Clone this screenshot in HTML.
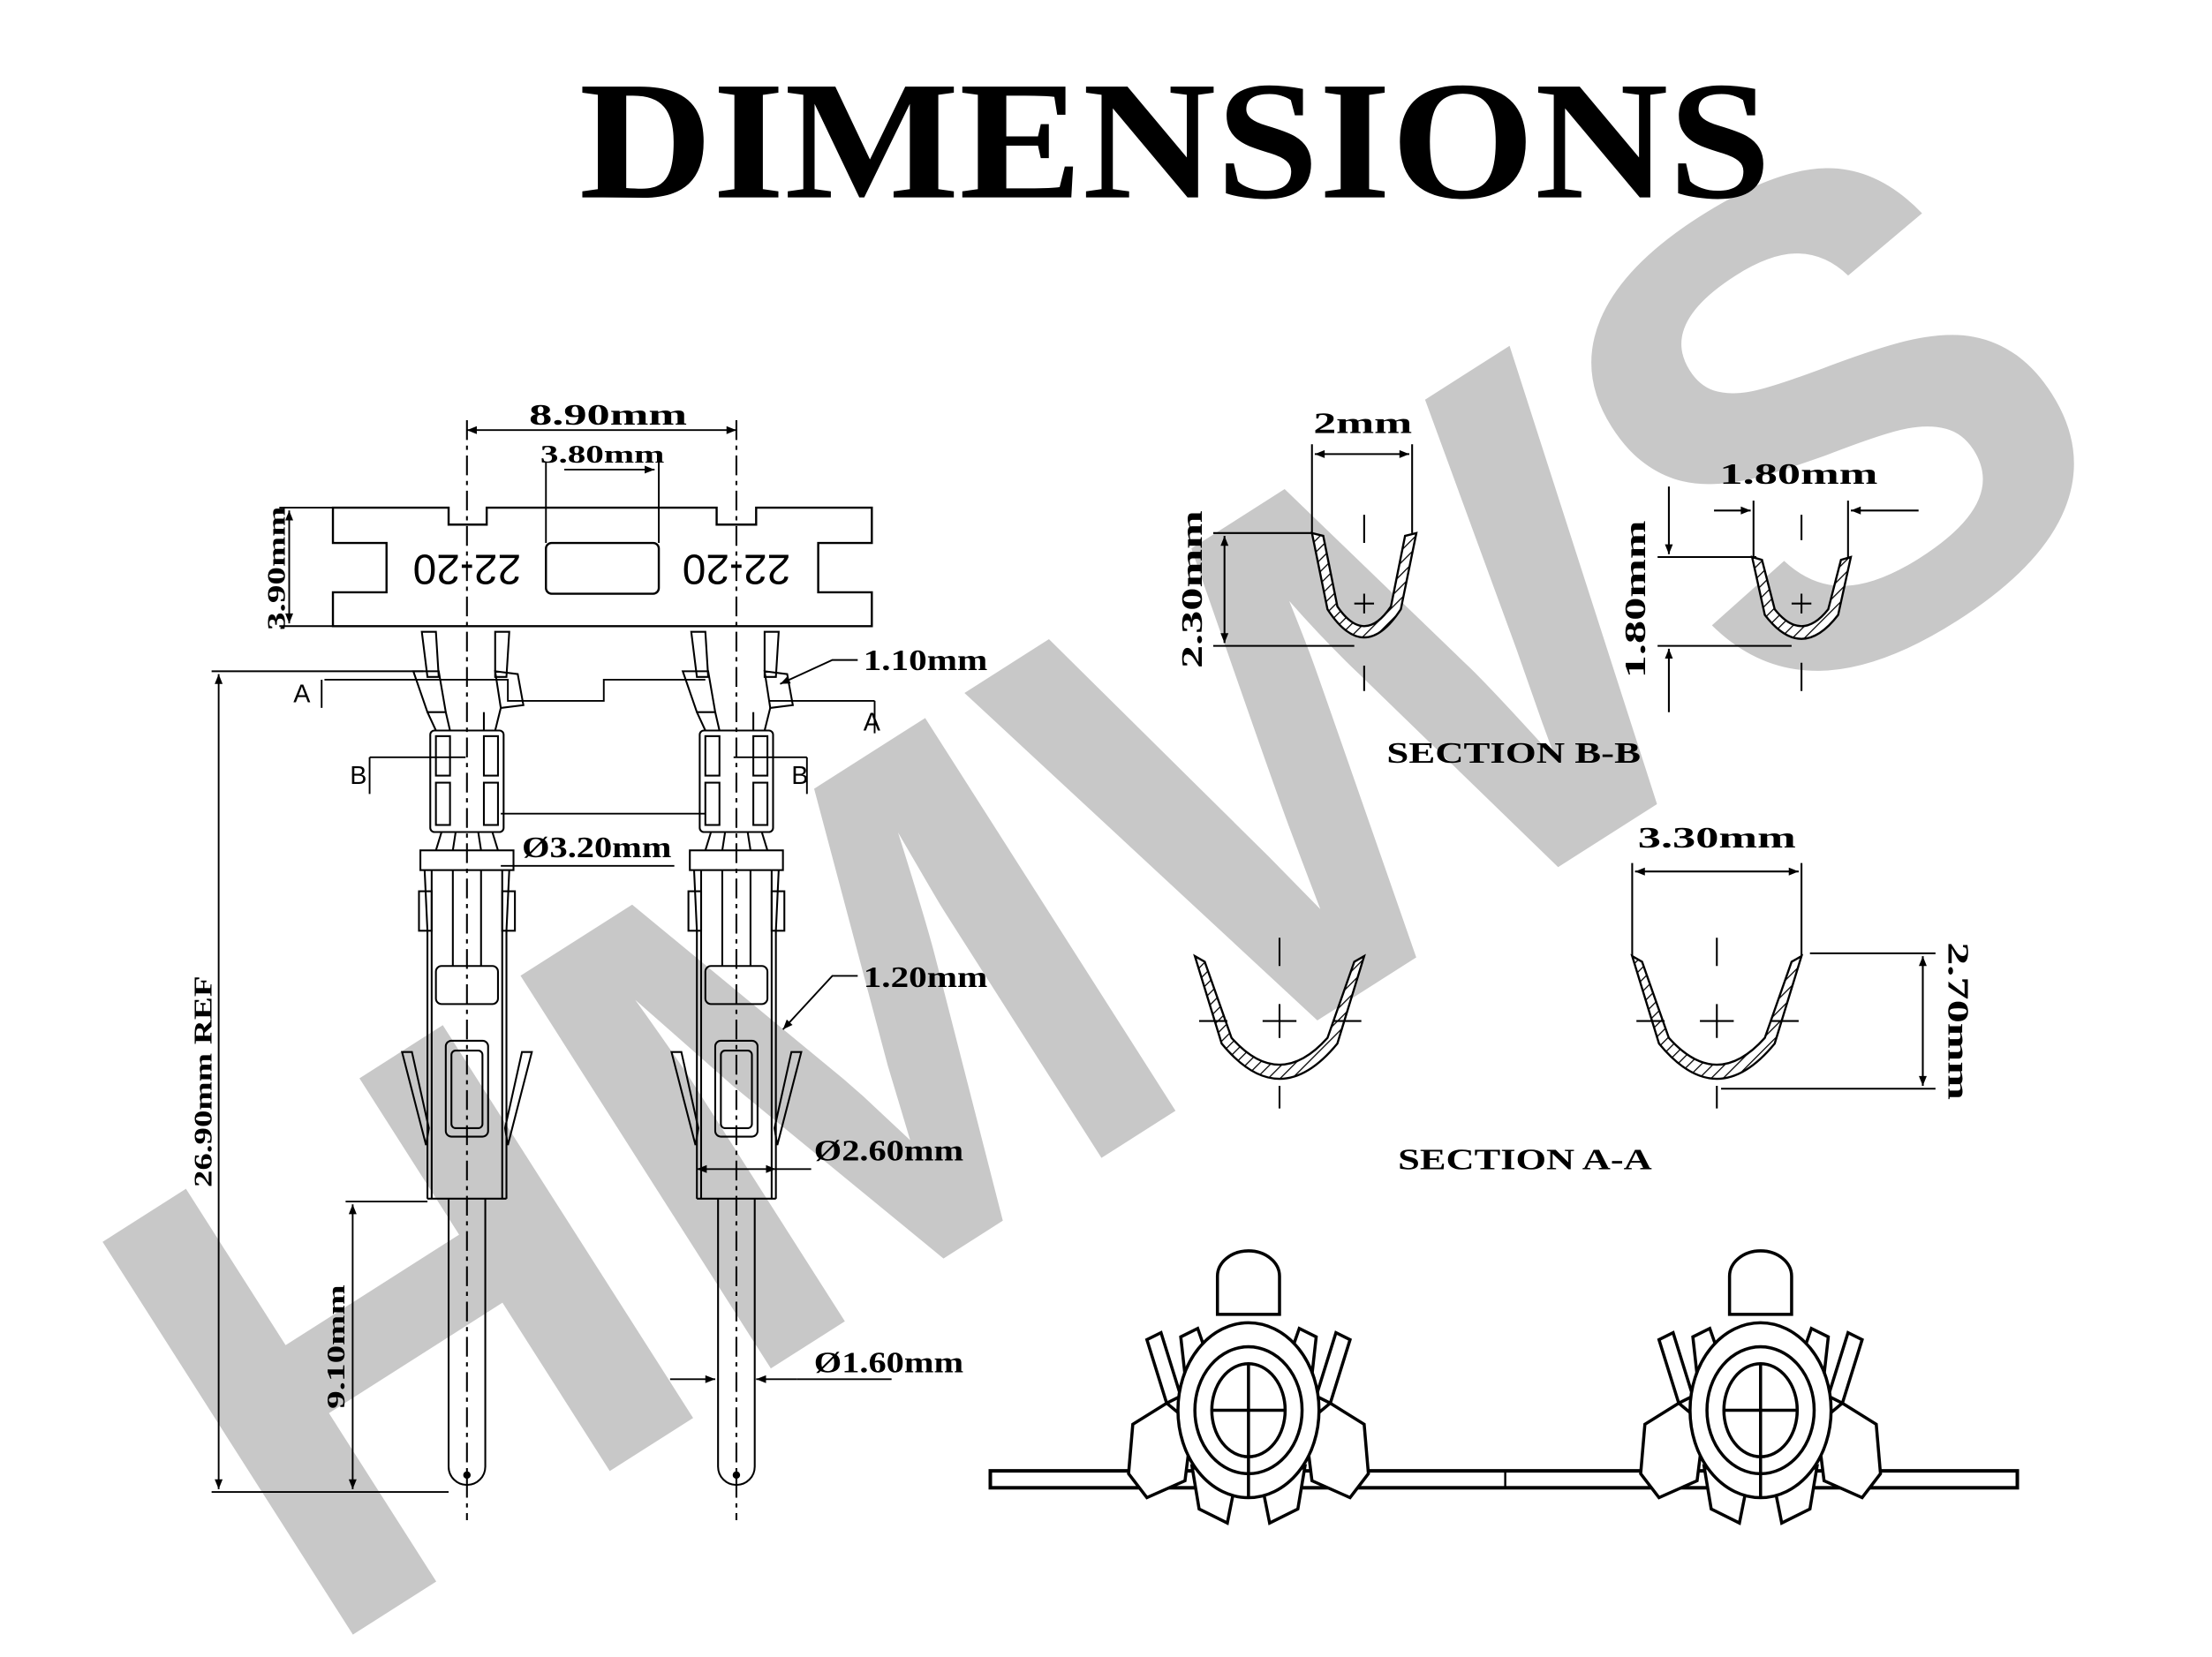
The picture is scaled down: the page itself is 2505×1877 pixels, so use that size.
<!DOCTYPE html>
<html><head><meta charset="utf-8"><style>
html,body{margin:0;padding:0;background:#fff;width:2505px;height:1877px;overflow:hidden}
svg{display:block;overflow:hidden}
.t{font-family:"Liberation Serif",serif;font-weight:bold;fill:#000}
.s{font-family:"Liberation Sans",sans-serif;fill:#000}
</style></head><body>
<svg width="2505" height="1877" viewBox="0 0 1568 1175" preserveAspectRatio="none" xmlns="http://www.w3.org/2000/svg">
<defs>
<pattern id="h" width="6" height="6" patternUnits="userSpaceOnUse" patternTransform="rotate(45)"><rect width="6" height="6" fill="#fff"/><line x1="0" y1="0" x2="0" y2="6" stroke="#000" stroke-width="1.6"/></pattern>
<marker id="a" viewBox="0 0 10 10" refX="10" refY="5" markerWidth="9" markerHeight="7" orient="auto-start-reverse" markerUnits="userSpaceOnUse"><path d="M0,1 L10,5 L0,9 Z" fill="#000"/></marker>
<g id="term" fill="none" stroke="#000" stroke-width="1.3">
<polygon points="-32,448 -22,448 -20,480 -28,480"/>
<polygon points="20,448 30,448 28,480 20,480"/>
<polygon points="-38,476 -20,476 -15,505 -28,505"/>
<polygon points="20,476 36,478 40,500 24,502"/>
<line x1="-28" y1="505" x2="-22" y2="518"/><line x1="-15" y1="505" x2="-12" y2="518"/>
<line x1="24" y1="502" x2="20" y2="518"/><line x1="12" y1="505" x2="12" y2="518"/>
<rect x="-26" y="518" width="52" height="72" rx="3"/>
<rect x="-22" y="522" width="10" height="28"/><rect x="-22" y="555" width="10" height="30"/>
<rect x="12" y="522" width="10" height="28"/><rect x="12" y="555" width="10" height="30"/>
<line x1="-18" y1="590" x2="-22" y2="603"/><line x1="18" y1="590" x2="22" y2="603"/>
<line x1="-8" y1="590" x2="-10" y2="603"/><line x1="8" y1="590" x2="10" y2="603"/>
<rect x="-33" y="603" width="66" height="14"/>
<path d="M-30,617 L-28,660 V850 M30,617 L28,660 V850 M-25,617 V850 M25,617 V850"/>
<rect x="-34" y="632" width="9" height="28"/><rect x="25" y="632" width="9" height="28"/>
<path d="M-10,617 V685 M10,617 V685"/>
<rect x="-22" y="685" width="44" height="27" rx="4"/>
<polygon points="-46,746 -39,746 -27,800 -29,812"/>
<polygon points="46,746 39,746 27,800 29,812"/>
<rect x="-15" y="738" width="30" height="68" rx="4"/><rect x="-11" y="745" width="22" height="55" rx="3"/>
<line x1="-28" y1="850" x2="28" y2="850"/>
<path d="M-13,850 V1040 A13,13 0 0 0 13,1040 V850"/>
<circle cx="0" cy="1046" r="2" fill="#000"/>
<line x1="0" y1="298" x2="0" y2="1078" stroke-dasharray="14,4,3,4"/>
</g>
<g id="front" fill="#fff" stroke="#000" stroke-width="2.2">
<path d="M-22,-68 V-95 A22,18 0 0 1 22,-95 V-68 Z"/>
<path d="M-72,-50 L-58,-5 L-48,-10 L-62,-55 Z M72,-50 L58,-5 L48,-10 L62,-55 Z"/>
<path d="M-48,-52 L-36,-58 L-28,-35 L-45,-25 Z M48,-52 L36,-58 L28,-35 L45,-25 Z"/>
<path d="M-58,-5 L-82,10 L-85,45 L-72,62 L-45,50 L-40,10 Z M58,-5 L82,10 L85,45 L72,62 L45,50 L40,10 Z"/>
<path d="M-40,40 L-35,70 L-15,80 L-10,55 Z M40,40 L35,70 L15,80 L10,55 Z"/>
<ellipse cx="0" cy="0" rx="50" ry="62"/>
<ellipse cx="0" cy="0" rx="38" ry="45" fill="none"/>
<ellipse cx="0" cy="0" rx="26" ry="33" fill="none"/>
<path d="M0,-33 V62 M-26,0 H26" fill="none"/>
</g>
</defs>

<text x="783" y="623" transform="rotate(-32.5 783 623)" text-anchor="middle" dominant-baseline="central" style="font-family:'Liberation Sans',sans-serif;font-weight:bold;font-size:480px;fill:#c8c8c8" textLength="1540" lengthAdjust="spacingAndGlyphs">HMWS</text>

<text class="t" x="833" y="140" text-anchor="middle" font-size="120" textLength="845" lengthAdjust="spacingAndGlyphs">DIMENSIONS</text>

<path d="M236,360 H318 V372 H345 V360 H508 V372 H536 V360 H618 V385 H580 V420 H618 V444 H236 V420 H274 V385 H236 Z" fill="none" stroke="#000" stroke-width="1.5"/>
<rect x="387" y="385" width="80" height="36" rx="4" fill="none" stroke="#000" stroke-width="1.5"/>
<text class="s" x="331" y="403" transform="rotate(180 331 403)" text-anchor="middle" dominant-baseline="central" font-size="30">22-20</text>
<text class="s" x="522" y="403" transform="rotate(180 522 403)" text-anchor="middle" dominant-baseline="central" font-size="30">22-20</text>

<use href="#term" x="331" y="0"/>
<use href="#term" x="522" y="0"/>

<g fill="none" stroke="#000" stroke-width="1.2">
<line x1="331" y1="305" x2="522" y2="305" marker-start="url(#a)" marker-end="url(#a)"/>
<line x1="387" y1="328" x2="387" y2="385"/><line x1="467" y1="328" x2="467" y2="385"/>
<line x1="400" y1="333" x2="464" y2="333" marker-end="url(#a)"/>
<line x1="198" y1="360" x2="236" y2="360"/><line x1="198" y1="444" x2="236" y2="444"/>
<line x1="205" y1="362" x2="205" y2="442" marker-start="url(#a)" marker-end="url(#a)"/>
<line x1="150" y1="476" x2="300" y2="476"/><line x1="150" y1="1058" x2="318" y2="1058"/>
<line x1="155" y1="478" x2="155" y2="1056" marker-start="url(#a)" marker-end="url(#a)"/>
<line x1="245" y1="852" x2="303" y2="852"/>
<line x1="250" y1="854" x2="250" y2="1056" marker-start="url(#a)" marker-end="url(#a)"/>
<path d="M230,482 H360 V497 H428 V482 H500 M545,497 H620"/>
<path d="M228,482 V502 M620,497 V520"/>
<path d="M262,537 H330 M355,577 H500 M520,537 H572 M262,537 V563 M572,537 V563"/>
<path d="M608,468 H590 L553,485" marker-end="url(#a)"/>
<path d="M608,692 H590 L555,730" marker-end="url(#a)"/>
<line x1="355" y1="614" x2="478" y2="614"/>
<line x1="494" y1="829" x2="550" y2="829" marker-start="url(#a)" marker-end="url(#a)"/>
<line x1="550" y1="829" x2="575" y2="829"/>
<line x1="475" y1="978" x2="507" y2="978" marker-end="url(#a)"/>
<line x1="565" y1="978" x2="536" y2="978" marker-end="url(#a)"/>
<line x1="565" y1="978" x2="632" y2="978"/>
</g>
<g class="s" font-size="18">
<text x="208" y="498">A</text><text x="612" y="518">A</text>
<text x="248" y="556">B</text><text x="561" y="556">B</text>
</g>
<g class="t" font-size="21">
<text x="431" y="301" text-anchor="middle" textLength="112" lengthAdjust="spacingAndGlyphs">8.90mm</text>
<text x="427" y="328" text-anchor="middle" font-size="18" textLength="88" lengthAdjust="spacingAndGlyphs">3.80mm</text>
<text transform="translate(202,403) rotate(-90)" text-anchor="middle" font-size="18" textLength="88" lengthAdjust="spacingAndGlyphs">3.90mm</text>
<text x="612" y="475" textLength="88" lengthAdjust="spacingAndGlyphs">1.10mm</text>
<text x="612" y="700" textLength="88" lengthAdjust="spacingAndGlyphs">1.20mm</text>
<text x="370" y="608" textLength="106" lengthAdjust="spacingAndGlyphs">Ø3.20mm</text>
<text x="577" y="823" textLength="106" lengthAdjust="spacingAndGlyphs">Ø2.60mm</text>
<text x="577" y="973" textLength="106" lengthAdjust="spacingAndGlyphs">Ø1.60mm</text>
<text transform="translate(150,767) rotate(-90)" text-anchor="middle" font-size="18" textLength="150" lengthAdjust="spacingAndGlyphs">26.90mm REF</text>
<text transform="translate(244,955) rotate(-90)" text-anchor="middle" font-size="18" textLength="88" lengthAdjust="spacingAndGlyphs">9.10mm</text>
</g>

<g stroke="#000" stroke-width="1.5">
<path d="M930,378 L941,432 Q967,472 993,432 L1004,378 L996,380 L986,430 Q967,458 948,430 L938,380 Z" fill="url(#h)"/>
<path d="M1242,395 L1251,436 Q1277,470 1303,436 L1312,395 L1305,397 L1296,432 Q1277,456 1258,432 L1249,397 Z" fill="url(#h)"/>
<path d="M847,678 L866,740 Q907,790 948,740 L967,678 L960,682 L941,736 Q907,774 873,736 L854,682 Z" fill="url(#h)"/>
<path d="M1157,678 L1176,740 Q1217,790 1258,740 L1277,678 L1270,682 L1251,736 Q1217,774 1183,736 L1164,682 Z" fill="url(#h)"/>
</g>
<g fill="none" stroke="#000" stroke-width="1.3">
<path d="M967,365 V385 M960,428 H974 M967,421 V435 M967,472 V490"/>
<path d="M1277,365 V383 M1270,428 H1284 M1277,421 V435 M1277,470 V490"/>
<path d="M907,665 V685 M895,724 H919 M907,712 V736 M907,770 V786 M850,724 H870 M945,724 H965"/>
<path d="M1217,665 V685 M1205,724 H1229 M1217,712 V736 M1217,770 V786 M1160,724 H1180 M1255,724 H1275"/>
<line x1="930" y1="315" x2="930" y2="378"/><line x1="1001" y1="315" x2="1001" y2="378"/>
<line x1="932" y1="322" x2="999" y2="322" marker-start="url(#a)" marker-end="url(#a)"/>
<line x1="860" y1="378" x2="930" y2="378"/><line x1="860" y1="458" x2="960" y2="458"/>
<line x1="868" y1="380" x2="868" y2="456" marker-start="url(#a)" marker-end="url(#a)"/>
<line x1="1243" y1="355" x2="1243" y2="395"/><line x1="1310" y1="355" x2="1310" y2="395"/>
<line x1="1215" y1="362" x2="1241" y2="362" marker-end="url(#a)"/><line x1="1360" y1="362" x2="1312" y2="362" marker-end="url(#a)"/>
<line x1="1175" y1="395" x2="1245" y2="395"/><line x1="1175" y1="458" x2="1270" y2="458"/>
<line x1="1183" y1="345" x2="1183" y2="393" marker-end="url(#a)"/><line x1="1183" y1="505" x2="1183" y2="460" marker-end="url(#a)"/>
<line x1="1157" y1="612" x2="1157" y2="678"/><line x1="1277" y1="612" x2="1277" y2="678"/>
<line x1="1159" y1="618" x2="1275" y2="618" marker-start="url(#a)" marker-end="url(#a)"/>
<line x1="1283" y1="676" x2="1372" y2="676"/><line x1="1220" y1="772" x2="1372" y2="772"/>
<line x1="1363" y1="678" x2="1363" y2="770" marker-start="url(#a)" marker-end="url(#a)"/>
</g>
<g class="t" font-size="21">
<text x="966" y="307" text-anchor="middle" textLength="70" lengthAdjust="spacingAndGlyphs">2mm</text>
<text transform="translate(852,418) rotate(-90)" text-anchor="middle" textLength="112" lengthAdjust="spacingAndGlyphs">2.30mm</text>
<text x="1275" y="343" text-anchor="middle" textLength="112" lengthAdjust="spacingAndGlyphs">1.80mm</text>
<text transform="translate(1166,425) rotate(-90)" text-anchor="middle" textLength="112" lengthAdjust="spacingAndGlyphs">1.80mm</text>
<text x="1073" y="541" text-anchor="middle" textLength="180" lengthAdjust="spacingAndGlyphs">SECTION B-B</text>
<text x="1217" y="601" text-anchor="middle" textLength="112" lengthAdjust="spacingAndGlyphs">3.30mm</text>
<text transform="translate(1381,724) rotate(90)" text-anchor="middle" textLength="112" lengthAdjust="spacingAndGlyphs">2.70mm</text>
<text x="1081" y="829" text-anchor="middle" textLength="180" lengthAdjust="spacingAndGlyphs">SECTION A-A</text>
</g>

<rect x="702" y="1043" width="728" height="12" fill="#fff" stroke="#000" stroke-width="2.5"/>
<line x1="1067" y1="1043" x2="1067" y2="1055" stroke="#000" stroke-width="1.5"/>
<use href="#front" x="885" y="1000"/>
<use href="#front" x="1248" y="1000"/>
</svg>
</body></html>
